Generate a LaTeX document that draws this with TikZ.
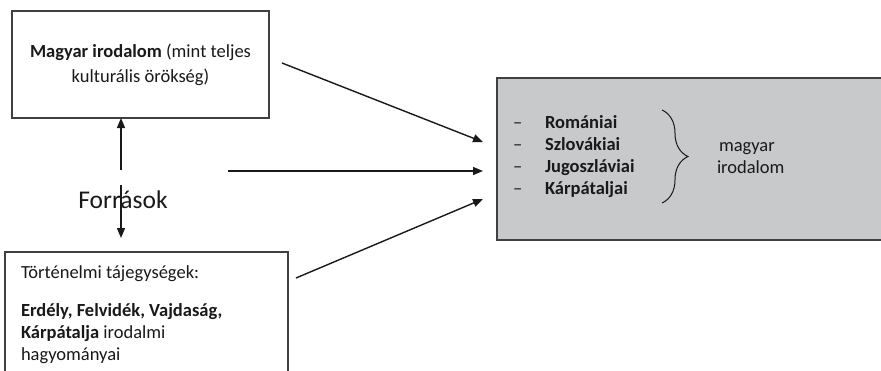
\documentclass[tikz,border=0pt]{standalone}
\usepackage{fontspec}
\setmainfont{Carlito}
\usetikzlibrary{arrows.meta,decorations.pathreplacing}
\definecolor{boxgray}{RGB}{200,201,203}
\definecolor{edgegray}{RGB}{64,64,64}

\begin{document}
\begin{tikzpicture}[
        x=1pt, y=-1pt,
        every node/.style={inner sep=0pt, outer sep=0pt, text=black!90},
        box/.style={draw=edgegray, line width=1.3pt, fill=white},
        greybox/.style={draw=edgegray, line width=1.5pt, fill=boxgray},
        body/.style={font=\fontsize{18.5}{22}\selectfont},
        arr/.style={draw=black!90, -{Triangle[length=10pt,width=8pt]}, line width=1.4pt},
    ]
    \useasboundingbox (0,0) rectangle (881,370);
    \clip (0,0) rectangle (881,370);
    % boxes
    \node[box, anchor=north west, minimum width=257pt, minimum height=107pt, align=center,
        font=\fontsize{18.5}{25}\selectfont] (magyar) at (12,11)
        {\textbf{Magyar irodalom} (mint teljes\\kulturális örökség)};
    \node[box, anchor=north west, minimum width=283pt, minimum height=160pt] (taj) at (5,252) {};
    \node[body, anchor=base west, align=left] (tajszoveg) at (21,360)
        {Történelmi tájegységek:\\[16pt]\textbf{Erdély, Felvidék, Vajdaság,}\\\textbf{Kárpátalja} irodalmi\\hagyományai};
    \node[greybox, anchor=north west, minimum width=420pt, minimum height=162pt] (orszag) at (497,78) {};
    \node[body, anchor=base west, align=left] (lista) at (513,194)
        {\makebox[32pt][l]{–}\textbf{Romániai}\\\makebox[32pt][l]{–}\textbf{Szlovákiai}\\
         \makebox[32pt][l]{–}\textbf{Jugoszláviai}\\\makebox[32pt][l]{–}\textbf{Kárpátaljai}};
    \draw[decorate, decoration={brace, amplitude=26pt}, line width=1pt, black!90] (662,110) -- (662,203);
    \node[body, anchor=base west, align=left] (kisebbseg) at (717,173) {\hspace*{2pt}magyar\\irodalom};
    \node[font=\fontsize{25.5}{30}\selectfont, anchor=base] (forrasok) at (123,208) {Források};
    % arrows
    \coordinate (fel) at (121,170);
    \coordinate (le) at (121,185);
    \coordinate (levég) at (121,238);
    \draw[arr] (fel) -- (fel |- magyar.south);
    \draw[arr] (le) -- (levég);
    \coordinate (a1) at (282,63);
    \coordinate (a2) at (228,171);
    \coordinate (a3) at (296,278);
    \draw[arr] (a1) -- ([xshift=-14pt,yshift=17pt]orszag.west);
    \draw[arr] (a2) -- ([xshift=-14pt,yshift=-12pt]orszag.west);
    \draw[arr] (a3) -- ([xshift=-14pt,yshift=-40pt]orszag.west);
\end{tikzpicture}
\end{document}
